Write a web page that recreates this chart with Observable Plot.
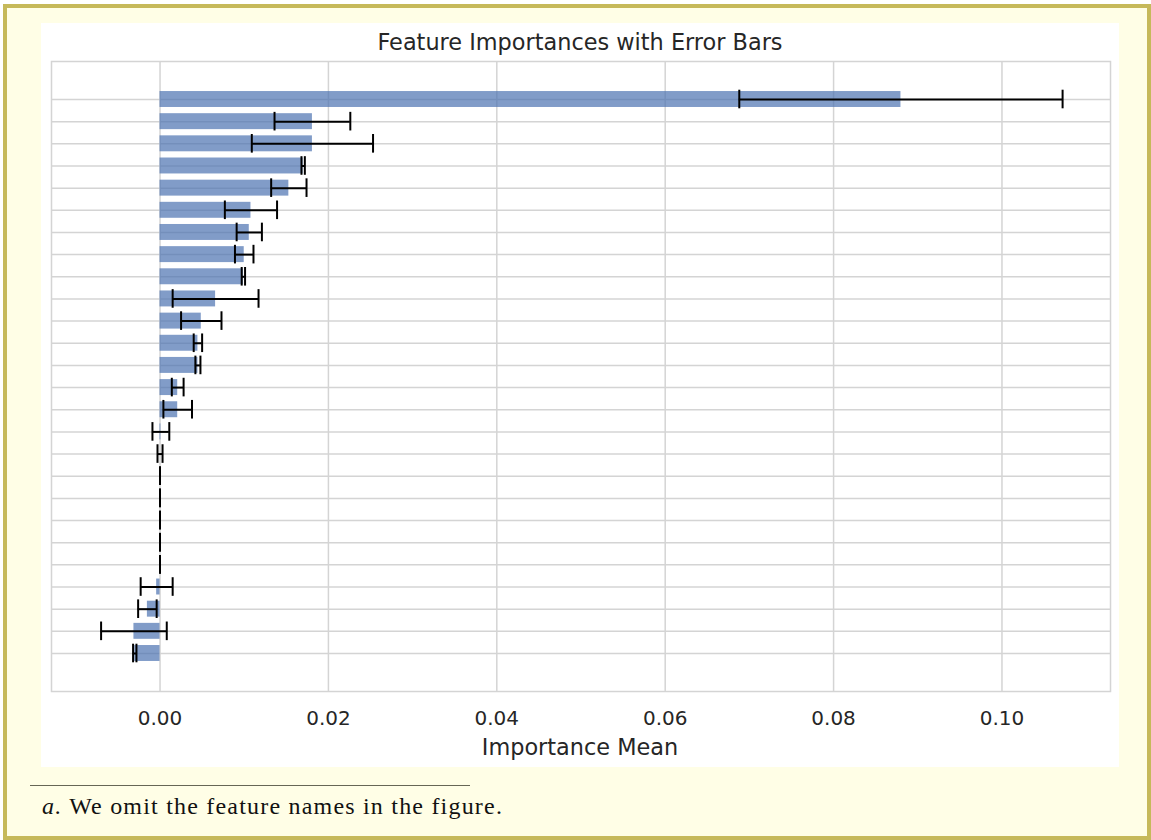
<!DOCTYPE html>
<html>
<head>
<meta charset="utf-8">
<script src="https://cdn.jsdelivr.net/npm/d3@7"></script>
<script src="https://cdn.jsdelivr.net/npm/@observablehq/plot@0.6"></script>
<style>
  html, body { margin: 0; padding: 0; }
  body { width: 1151px; height: 840px; position: relative; overflow: hidden; background: #ffffff; font-family: "DejaVu Sans", sans-serif; }
  #frame { position: absolute; left: 3px; top: 4px; width: 1140px; height: 828px; border: 4px solid #c6b95a; background: #fffee6; }
  #panel { position: absolute; left: 41px; top: 23px; width: 1078px; height: 744px; background: #ffffff; }
  #title { position: absolute; left: 41px; top: 23px; width: 1078px; height: 38px; line-height: 38px; text-align: center; font-size: 22.4px; color: #262626; }
  #chart { position: absolute; left: 41px; top: 60px; }
  #xlabel { position: absolute; left: 41px; top: 733px; width: 1078px; height: 28px; line-height: 28px; text-align: center; font-size: 22.4px; color: #262626; }
  #rule { position: absolute; left: 30px; top: 785px; width: 440px; height: 0; border-top: 1.5px solid #666655; }
  #note { position: absolute; left: 42px; top: 793px; font-family: "Liberation Serif", serif; font-size: 24px; letter-spacing: 1.2px; line-height: 26px; color: #111; white-space: nowrap; }
</style>
</head>
<body>
<div id="frame"></div>
<div id="panel"></div>
<div id="title">Feature Importances with Error Bars</div>
<div id="chart"></div>
<div id="xlabel">Importance Mean</div>
<div id="rule"></div>
<div id="note"><i>a.</i> We omit the feature names in the figure.</div>
<script>
// Feature rank (names omitted in the original figure), top to bottom
const featureRank = d3.range(26);
// Permutation importance means
const importanceMean = [
  0.0880, 0.0181, 0.0181, 0.0170, 0.0153, 0.0108, 0.0106, 0.0100, 0.0099, 0.0066,
  0.0049, 0.0045, 0.0045, 0.0021, 0.0021, 0.0001, 0.0000, 0.0000, 0.0000, 0.0000,
  0.0000, 0.0000, -0.0004, -0.0015, -0.0031, -0.0030
];
// Standard deviations (error bar half-widths)
const importanceStd = [
  0.0192, 0.0045, 0.0072, 0.0002, 0.0021, 0.0031, 0.0015, 0.0011, 0.0002, 0.0051,
  0.0024, 0.0005, 0.0003, 0.0007, 0.0017, 0.0010, 0.0003, 0.0000, 0.0000, 0.0000,
  0.0000, 0.0000, 0.0019, 0.0011, 0.0039, 0.0002
];
const xTicks = [0.00, 0.02, 0.04, 0.06, 0.08, 0.10];

const rows = featureRank.map((i) => ({ i, mean: importanceMean[i], err: importanceStd[i] }));
const gridColor = "#d4d4d4";
const fmt = d3.format(".2f");

const chart = Plot.plot({
  width: 1078,
  height: 673,
  marginLeft: 10,
  marginRight: 9,
  marginTop: 1,
  marginBottom: 42,
  style: { background: "transparent", fontFamily: "DejaVu Sans, sans-serif", fontSize: "20px", color: "#262626" },
  x: { domain: [-0.01289, 0.11289] },
  y: { domain: [-1.715, 26.715], reverse: true, axis: null },
  marks: [
    Plot.ruleX(xTicks, { x: (d) => d, stroke: gridColor, strokeWidth: 1.5 }),
    Plot.ruleY(rows, { y: "i", stroke: gridColor, strokeWidth: 1.5 }),
    Plot.rectX(rows, {
      x1: () => 0, x2: "mean",
      y1: (d) => d.i - 0.36, y2: (d) => d.i + 0.36,
      fill: "#4c72b0", fillOpacity: 0.7
    }),
    Plot.ruleY(rows, { y: "i", x1: (d) => d.mean - d.err, x2: (d) => d.mean + d.err, stroke: "black", strokeWidth: 2 }),
    Plot.ruleX(rows, { x: (d) => d.mean - d.err, y1: (d) => d.i - 0.42, y2: (d) => d.i + 0.42, stroke: "black", strokeWidth: 2 }),
    Plot.ruleX(rows, { x: (d) => d.mean + d.err, y1: (d) => d.i - 0.42, y2: (d) => d.i + 0.42, stroke: "black", strokeWidth: 2 }),
    Plot.frame({ stroke: gridColor, strokeWidth: 1.5 }),
    Plot.axisX(xTicks, { tickSize: 0, tickPadding: 19, tickFormat: fmt, label: null, fontSize: 20 })
  ]
});
document.getElementById("chart").appendChild(chart);
</script>
</body>
</html>
